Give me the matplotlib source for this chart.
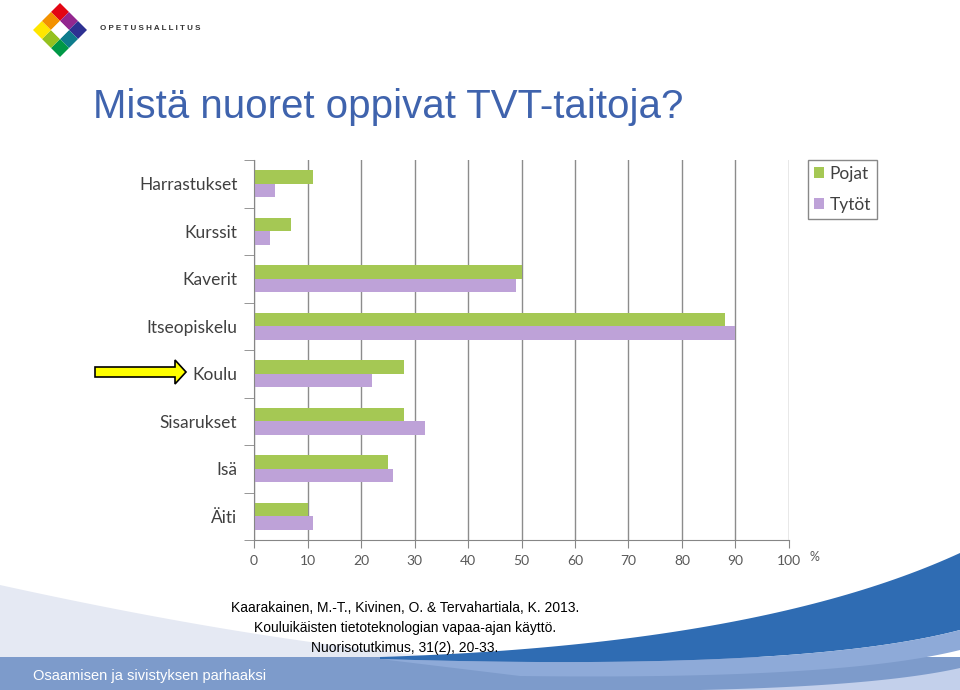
import numpy as np
import matplotlib
matplotlib.use('Agg')
import matplotlib.pyplot as plt
from matplotlib.patches import Polygon, Rectangle

# data
categories = ['Harrastukset', 'Kurssit', 'Kaverit', 'Itseopiskelu', 'Koulu', 'Sisarukset', 'Isä', 'Äiti']
pojat = [11, 7, 50, 88, 28, 28, 25, 10]
tytot = [4, 3, 49, 90, 22, 32, 26, 11]
xticks = [0, 10, 20, 30, 40, 50, 60, 70, 80, 90, 100]

green = '#a5c854'
purple = '#bea2d8'
chart_font = ['Lato', 'DejaVu Sans']
sans = ['Liberation Sans', 'DejaVu Sans']

fig = plt.figure(figsize=(9.6, 6.9), dpi=100)

# background layer in pixel coords
bg = fig.add_axes([0, 0, 1, 1], zorder=0)
bg.set_xlim(0, 960)
bg.set_ylim(690, 0)
bg.axis('off')


def bez(p0, p1, p2, n=60):
    t = np.linspace(0, 1, n)[:, None]
    p0, p1, p2 = map(np.array, (p0, p1, p2))
    return (1 - t) ** 2 * p0 + 2 * (1 - t) * t * p1 + t ** 2 * p2


# footer swoosh
pale = bez((0, 585), (250, 640), (440, 657))
bg.add_patch(Polygon(np.vstack([pale, [[0, 660]]]), color='#e5e9f3', lw=0))
bg.add_patch(Rectangle((0, 657), 960, 33, color='#7d9bcb', lw=0))
up = bez((380, 657), (760, 645), (960, 553))
lo = bez((380, 659), (800, 672), (960, 630))
bg.add_patch(Polygon(np.vstack([up, lo[::-1]]), color='#2f6cb3', lw=0))
mid = bez((520, 676), (840, 680), (960, 650))
bg.add_patch(Polygon(np.vstack([lo[::-1], mid]), color='#8eaad8', lw=0))
light = bez((700, 690), (880, 686), (960, 668))
bg.add_patch(Polygon(np.vstack([light, [[960, 690]]]), color='#c3d0eb', lw=0))

# logo
cx, cy, h = 60, 30, 9
logo_cells = {(-1, -1): '#e30613', (0, -1): '#93278f', (1, -1): '#2e3192',
              (1, 0): '#0e7c8c', (1, 1): '#009846', (0, 1): '#95c11f',
              (-1, 1): '#ffe600', (-1, 0): '#f39200', (0, 0): '#ffffff'}
for (u, v), c in logo_cells.items():
    x = cx + (u - v) * h
    y = cy + (u + v) * h
    bg.add_patch(Polygon([(x - h, y), (x, y - h), (x + h, y), (x, y + h)], color=c, lw=0))
bg.text(100, 29, 'O P E T U S H A L L I T U S', fontsize=5.8, fontweight='bold',
        color='#333333', va='center', ha='left', family=sans)

# title
bg.text(93, 107, 'Mistä nuoret oppivat TVT-taitoja?', fontsize=29, color='#3f63ad',
        va='center', ha='left', family=sans)

# arrow
bg.add_patch(Polygon([(95, 367), (175, 367), (175, 360), (186, 372), (175, 384),
                      (175, 377), (95, 377)], facecolor='#ffff00', edgecolor='black', lw=1.2))

# citation
cite = ['Kaarakainen, M.-T., Kivinen, O. & Tervahartiala, K. 2013.',
        'Kouluikäisten tietoteknologian vapaa-ajan käyttö.',
        'Nuorisotutkimus, 31(2), 20-33.']
for i, line in enumerate(cite):
    bg.text(405, 608 + i * 20, line, fontsize=10, ha='center', va='center',
            color='black', family=sans)
bg.text(33, 676, 'Osaamisen ja sivistyksen parhaaksi', fontsize=10.5, color='white',
        ha='left', va='center', family=sans)

# chart
ax = fig.add_axes([254 / 960, 150 / 690, 535 / 960, 380 / 690], zorder=1)
ax.set_facecolor('none')
y = np.arange(len(categories))
bh = 0.285
ax.barh(y - bh / 2, pojat, height=bh, color=green, label='Pojat', zorder=2)
ax.barh(y + bh / 2, tytot, height=bh, color=purple, label='Tytöt', zorder=2)
ax.set_ylim(len(categories) - 0.5, -0.5)
ax.set_xlim(0, 100)
ax.set_xticks(xticks)
ax.set_xticklabels([str(t) for t in xticks], family=chart_font, fontsize=10, color='#595959')
ax.set_yticks(y)
ax.set_yticklabels(categories, family=chart_font, fontsize=12.5, color='#404040')
ax.set_yticks(np.arange(len(categories) + 1) - 0.5, minor=True)
ax.tick_params(axis='y', which='major', length=0, pad=12)
ax.tick_params(axis='y', which='minor', length=7, color='#868686')
ax.tick_params(axis='x', length=6, color='#868686', pad=5)
ax.grid(axis='x', color='#8c8c8c', lw=1, zorder=0)
ax.set_axisbelow(True)
for s in ['top', 'right']:
    ax.spines[s].set_visible(False)
for s in ['left', 'bottom']:
    ax.spines[s].set_color('#868686')
bg.text(810, 557, '%', fontsize=9, color='#595959', family=chart_font, ha='left', va='center')

leg = fig.legend(loc='upper left', bbox_to_anchor=(808 / 960, 1 - 160 / 690),
                 prop={'family': chart_font, 'size': 12.5}, handlelength=0.6, handleheight=0.6,
                 labelspacing=0.85, handletextpad=0.3, borderpad=0.35, borderaxespad=0,
                 fancybox=False, edgecolor='#888888', framealpha=1)
leg.get_frame().set_linewidth(1)
for t in leg.get_texts():
    t.set_color('#404040')

fig.savefig('out.png', dpi=100)
